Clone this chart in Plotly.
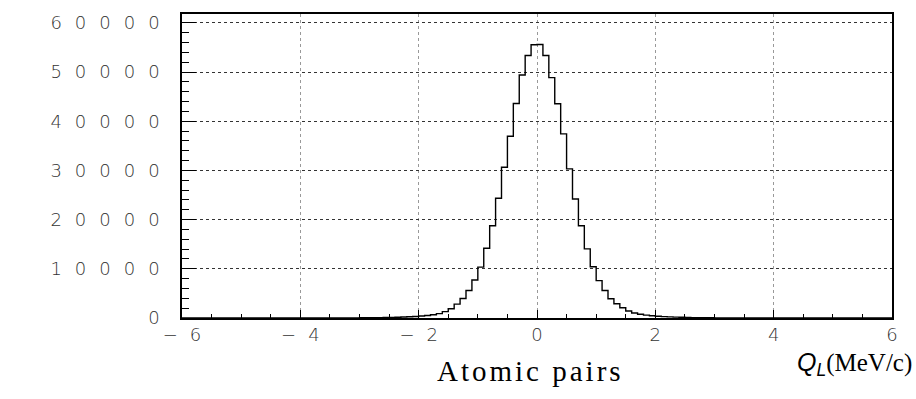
import numpy as np
import plotly.graph_objects as go

# Histogram binning: 120 bins of width 0.1 MeV/c over [-6, 6]
bin_lo = -6.0
bin_width = 0.1
n_bins = 120

# Entries per bin (Atomic pairs), left to right
counts = [
    0, 0, 0, 0, 0, 0, 0, 0, 0, 0,
    0, 1, 0, 1, 1, 2, 2, 3, 3, 4,
    5, 6, 7, 9, 11, 13, 16, 20, 25, 31,
    40, 52, 66, 84, 106, 132, 165, 205, 255, 320,
    400, 510, 650, 880, 1300, 1880, 2820, 3960, 5580, 7730,
    10350, 14180, 18750, 24330, 30650, 36960, 43620, 49400, 53360, 55560,
    55600, 53360, 48860, 43550, 37430, 30310, 24190, 18750, 14050, 10420,
    7590, 5580, 3900, 2890, 2080, 1420, 1020, 760, 580, 450,
    350, 280, 220, 175, 138, 108, 85, 67, 52, 41,
    32, 26, 20, 16, 12, 10, 8, 6, 5, 4,
    3, 3, 2, 2, 1, 1, 1, 1, 0, 1,
    0, 0, 0, 0, 0, 0, 0, 0, 0, 0,
]

x_ticks = [-6, -4, -2, 0, 2, 4, 6]
x_ticklabels = ["\u22126", "\u22124", "\u22122", "0", "2", "4", "6"]
y_ticks = [0, 10000, 20000, 30000, 40000, 50000, 60000]
y_ticklabels = ["0", "10000", "20000", "30000", "40000", "50000", "60000"]

caption = "Atomic pairs"

edges = bin_lo + bin_width * np.arange(n_bins + 1)
step_y = list(counts) + [counts[-1]]


def spaced(s, px):
    """Widen a label with letter spacing, leaving no trailing gap."""
    if len(s) < 2:
        return s
    return f'<span style="letter-spacing:{px}px">{s[:-1]}</span>{s[-1]}'


tick_font = dict(family="DejaVu Sans", size=18, color="#333333", weight=200)

fig = go.Figure()
fig.add_trace(go.Scatter(
    x=edges, y=step_y, mode="lines",
    line=dict(color="black", width=1.4, shape="hv"),
    hoverinfo="skip", showlegend=False,
))

fig.update_xaxes(
    range=[-6, 6],
    tickmode="array", tickvals=x_ticks,
    ticktext=[spaced(t, 12) for t in x_ticklabels],
    tickfont=tick_font,
    ticks="inside", ticklen=8, tickwidth=1, tickcolor="black",
    minor=dict(dtick=0.5, ticks="inside", ticklen=4, tickcolor="black", showgrid=False),
    showgrid=True, gridcolor="#999999", griddash="dot", gridwidth=1,
    showline=True, linecolor="black", linewidth=1.5, mirror=True,
    zeroline=False,
)
fig.update_yaxes(
    range=[0, 61800],
    tickmode="array", tickvals=y_ticks,
    ticktext=[spaced(t, 13) for t in y_ticklabels],
    tickfont=tick_font,
    ticks="inside", ticklen=14, tickwidth=1, tickcolor="black",
    minor=dict(dtick=2000, ticks="inside", ticklen=7, tickcolor="black", showgrid=False),
    showgrid=True, gridcolor="#333333", griddash="dot", gridwidth=1,
    showline=True, linecolor="black", linewidth=1.5, mirror=True,
    zeroline=False,
    ticklabelstandoff=17,
)

# Axis title: italic sans Q_L followed by the unit in serif
fig.add_annotation(
    text=(
        '<span style="font-family:Liberation Sans;font-style:italic">Q<sub>L</sub></span>'
        '(MeV/c)'
    ),
    xref="paper", yref="paper", x=1.031, y=-0.15,
    xanchor="right", yanchor="middle", showarrow=False,
    font=dict(family="Liberation Serif", size=25, color="black"),
)
fig.add_annotation(
    text=f'<span style="letter-spacing:3px">{caption}</span>',
    xref="paper", yref="paper", x=0.4915, y=-0.173,
    xanchor="center", yanchor="middle", showarrow=False,
    font=dict(family="Liberation Serif", size=29, color="black"),
)

fig.update_layout(
    width=916, height=399,
    margin=dict(l=182, r=24, t=12, b=81),
    paper_bgcolor="white", plot_bgcolor="white",
)

fig.write_html("out.html")
